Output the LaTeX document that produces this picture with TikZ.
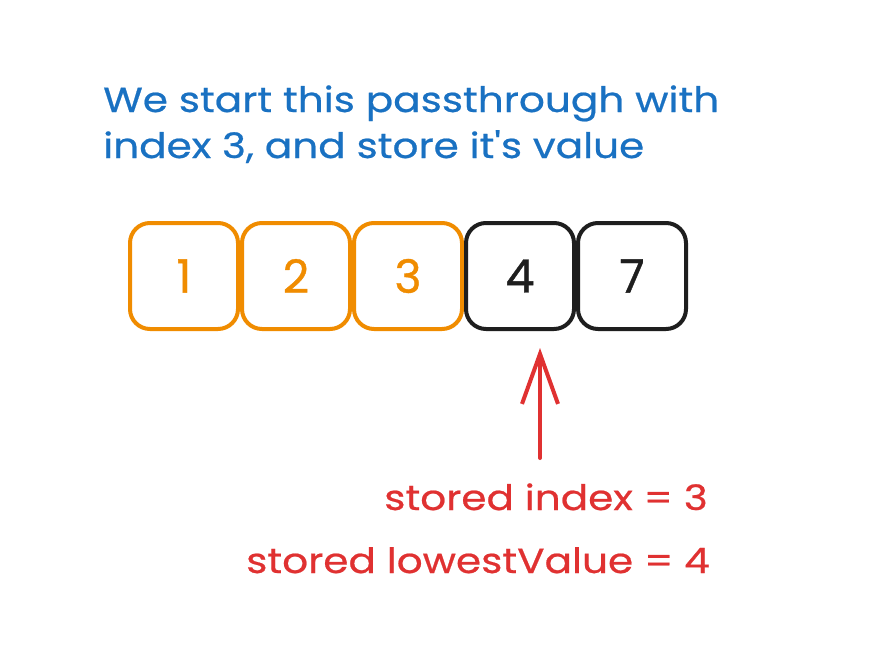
\documentclass[tikz,border=0pt]{standalone}
\usepackage{fontspec}
\setmainfont{Poppins}
\newfontfamily\handfont[FakeStretch=1.16, FakeBold=0.6]{Poppins}
\newfontfamily\digitfont[FakeBold=0.8]{Poppins}
\usetikzlibrary{arrows.meta}
\definecolor{exblue}{HTML}{1971C2}
\definecolor{exorange}{HTML}{F08C00}
\definecolor{exred}{HTML}{E03131}
\definecolor{exblack}{HTML}{1E1E1E}
\tikzset{
  cell/.style={draw, line width=4pt, rounded corners=20pt, minimum width=108pt, minimum height=106pt, inner sep=0pt, font=\digitfont\fontsize{46}{46}\selectfont, text=#1, draw=#1},
  bluetext/.style={text=exblue, font=\handfont\fontsize{35}{45}\selectfont, align=left, inner sep=0pt},
  redtext/.style={text=exred, font=\handfont\fontsize{35}{45}\selectfont, inner sep=0pt},
}
\begin{document}
\begin{tikzpicture}[x=1pt,y=-1pt]
\useasboundingbox[fill=white] (0,0) rectangle (890,667);
\node[bluetext, anchor=base west] (l1) at (103,112) {We start this passthrough with};
\node[bluetext, anchor=base west] (l2) at (103,158) {index 3, and store it's value};
\node[cell=exorange] (c1) at (184,276) {1};
\node[cell=exorange] (c2) at (296,276) {2};
\node[cell=exorange] (c3) at (408,276) {3};
\node[cell=exblack] (c4) at (520,276) {4};
\node[cell=exblack] (c5) at (632,276) {7};
\coordinate (tip) at (540,348);
\coordinate (tail) at (540,458);
\draw[exred, line width=4pt, line cap=round, -{Straight Barb[length=50pt,width=36pt,line width=4pt]}] (tail) -- (tip);
\node[redtext, anchor=base east] (r1) at (708,510) {stored index = 3};
\node[redtext, anchor=base east] (r2) at (710,573) {stored lowestValue = 4};
\end{tikzpicture}
\end{document}
